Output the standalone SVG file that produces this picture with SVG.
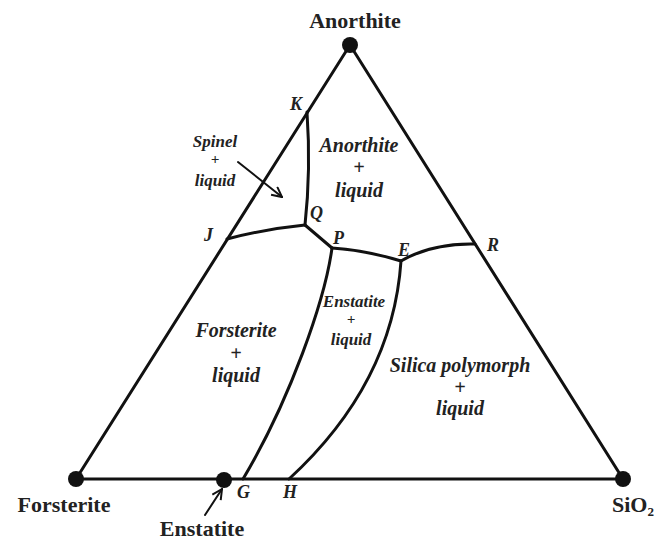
<svg xmlns="http://www.w3.org/2000/svg" width="656" height="540" viewBox="0 0 656 540">
<style>
.ln{fill:none;stroke:#111;stroke-width:3;stroke-linejoin:round;stroke-linecap:round}
.ar{fill:none;stroke:#111;stroke-width:2;stroke-linecap:round}
.dot{fill:#111}
.vt{font-family:"Liberation Serif",serif;font-weight:bold;font-size:22px;fill:#222}
.rg{font-family:"Liberation Serif",serif;font-weight:bold;font-style:italic;font-size:20px;fill:#222;text-anchor:middle}
.sm{font-size:17px}
.pl{font-size:15px}
.pt{font-family:"Liberation Serif",serif;font-weight:bold;font-style:italic;font-size:18px;fill:#222}
</style>
<defs>
<marker id="ah" viewBox="0 0 12 12" refX="11" refY="6" markerWidth="12" markerHeight="12" markerUnits="userSpaceOnUse" orient="auto">
<path d="M1,1 L11,6 L1,11" fill="none" stroke="#111" stroke-width="2"/>
</marker>
</defs>
<rect width="656" height="540" fill="#fff"/>
<g id="connectors">
<path class="ln" d="M76,479 L350,45 L623,479 Z"/>
<path class="ln" d="M307,112 Q311,170 305,225"/>
<path class="ln" d="M227,239 Q265,229 305,225"/>
<path class="ln" d="M305,225 L332,248"/>
<path class="ln" d="M332,248 Q365,250 401,261"/>
<path class="ln" d="M401,261 Q432,243 475,244"/>
<path class="ln" d="M332,248 C325,300 290,400 243,479"/>
<path class="ln" d="M401,261 C397,320 375,400 289,479"/>
<line class="ar" x1="238" y1="162" x2="282" y2="197" marker-end="url(#ah)"/>
<line class="ar" x1="205" y1="515" x2="222" y2="489" marker-end="url(#ah)"/>
</g>
<g id="anorthite">
<circle class="dot" cx="350" cy="45" r="8"/>
<text class="vt" x="355" y="28" text-anchor="middle">Anorthite</text>
</g>
<g id="forsterite">
<circle class="dot" cx="76" cy="479" r="8"/>
<text class="vt" x="64" y="512" text-anchor="middle">Forsterite</text>
</g>
<g id="sio2">
<circle class="dot" cx="623" cy="479" r="8"/>
<text class="vt" x="612" y="512">SiO<tspan font-size="13" dy="4">2</tspan></text>
</g>
<g id="enstatite">
<circle class="dot" cx="224" cy="480" r="8"/>
<text class="vt" x="202" y="536" text-anchor="middle">Enstatite</text>
</g>
<g id="points">
<text class="pt" x="290" y="110">K</text>
<text class="pt" x="310" y="219">Q</text>
<text class="pt" x="204" y="241">J</text>
<text class="pt" x="333" y="244">P</text>
<text class="pt" x="398" y="256">E</text>
<text class="pt" x="487" y="251">R</text>
<text class="pt" x="237" y="498">G</text>
<text class="pt" x="283" y="498">H</text>
</g>
<g id="spinel-liquid">
<text class="rg sm" x="215" y="147">Spinel</text>
<text class="rg pl" x="215" y="164">+</text>
<text class="rg sm" x="215" y="186">liquid</text>
</g>
<g id="anorthite-liquid">
<text class="rg" x="359" y="152">Anorthite</text>
<text class="rg" x="359" y="174">+</text>
<text class="rg" x="359" y="197">liquid</text>
</g>
<g id="forsterite-liquid">
<text class="rg" x="236" y="337">Forsterite</text>
<text class="rg" x="236" y="360">+</text>
<text class="rg" x="236" y="382">liquid</text>
</g>
<g id="enstatite-liquid">
<text class="rg sm" x="354" y="307">Enstatite</text>
<text class="rg pl" x="351" y="324">+</text>
<text class="rg sm" x="351" y="345">liquid</text>
</g>
<g id="silica-liquid">
<text class="rg" x="460" y="372">Silica polymorph</text>
<text class="rg" x="460" y="394">+</text>
<text class="rg" x="460" y="415">liquid</text>
</g>
</svg>
